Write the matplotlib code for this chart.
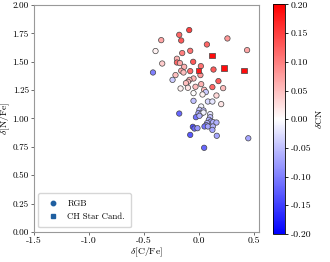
import matplotlib
matplotlib.use("Agg")
import matplotlib.pyplot as plt
from matplotlib.lines import Line2D
import numpy as np

plt.rcParams["font.family"] = "serif"
plt.rcParams["font.serif"] = ["cmr10"]
plt.rcParams["mathtext.fontset"] = "cm"
plt.rcParams["axes.formatter.use_mathtext"] = True
plt.rcParams["font.size"] = 7

# RGB stars: delta[C/Fe], delta[N/Fe], delta CN
rgb_cfe = [-0.086, -0.177, -0.159, -0.341, 0.262, 0.075, -0.393, -0.077, -0.150, 0.441,
           -0.198, -0.198, -0.332, -0.171, -0.050, -0.132, 0.020, -0.416, -0.159, -0.138,
           -0.077, 0.135, 0.016, -0.211, -0.238, -0.047, -0.084, -0.098, -0.116, 0.180,
           0.023, -0.165, -0.098, -0.029, 0.125, 0.050, 0.223, 0.065, -0.047, 0.035,
           0.162, -0.047, 0.084, 0.125, 0.205, 0.023, 0.007, 0.044, -0.002, 0.023,
           0.044, -0.177, 0.105, 0.105, -0.025, 0.007, 0.093, 0.111, 0.132, 0.077,
           0.068, 0.053, 0.084, 0.162, -0.053, -0.038, -0.011, 0.129, 0.125, -0.077,
           0.165, 0.452, 0.050]
rgb_nfe = [1.779, 1.737, 1.687, 1.690, 1.705, 1.652, 1.594, 1.596, 1.576, 1.602,
           1.526, 1.493, 1.484, 1.488, 1.499, 1.455, 1.461, 1.405, 1.420, 1.405,
           1.417, 1.431, 1.382, 1.382, 1.340, 1.352, 1.340, 1.323, 1.311, 1.329,
           1.302, 1.264, 1.270, 1.279, 1.276, 1.252, 1.267, 1.232, 1.223, 1.211,
           1.202, 1.155, 1.149, 1.149, 1.126, 1.105, 1.076, 1.070, 1.047, 1.041,
           1.052, 1.043, 1.038, 1.011, 1.011, 1.023, 0.988, 0.973, 0.967, 0.959,
           0.941, 0.929, 0.929, 0.964, 0.926, 0.911, 0.914, 0.929, 0.899, 0.855,
           0.847, 0.825, 0.741]
rgb_dcn = [0.15, 0.12, 0.13, 0.07, 0.08, 0.12, 0.01, 0.11, 0.10, 0.07,
           0.06, 0.12, 0.04, 0.07, 0.13, 0.06, 0.11, -0.10, 0.07, 0.05,
           0.12, 0.13, 0.08, 0.05, -0.04, 0.06, 0.06, 0.05, 0.05, 0.13,
           0.06, 0.01, 0.02, 0.05, 0.12, 0.05, 0.05, -0.04, 0.00, 0.01,
           0.03, -0.05, -0.03, -0.02, 0.02, -0.01, -0.05, -0.05, -0.07, -0.04,
           -0.01, -0.12, -0.02, -0.05, -0.11, -0.06, -0.06, -0.08, -0.06, -0.06,
           -0.09, -0.11, -0.07, -0.06, -0.14, -0.12, -0.08, -0.06, -0.07, -0.13,
           -0.07, -0.07, -0.12]

# CH star candidates
ch_cfe = [0.123, -0.002, 0.232, 0.414]
ch_nfe = [1.555, 1.420, 1.444, 1.420]
ch_dcn = [0.19, 0.18, 0.19, 0.19]

x_ticks = [-1.5, -1.0, -0.5, 0.0, 0.5]
y_ticks = [0.0, 0.25, 0.5, 0.75, 1.0, 1.25, 1.5, 1.75, 2.0]
cb_ticks = [-0.2, -0.15, -0.1, -0.05, 0.0, 0.05, 0.1, 0.15, 0.2]

fig = plt.figure(figsize=(3.3, 2.62), dpi=100)
ax = fig.add_axes([0.103, 0.115, 0.682, 0.866])
cax = fig.add_axes([0.828, 0.107, 0.036, 0.876])

norm = matplotlib.colors.Normalize(vmin=-0.2, vmax=0.2)
sc = ax.scatter(rgb_cfe, rgb_nfe, c=rgb_dcn, cmap="bwr", norm=norm, s=15,
                marker="o", edgecolors="#444444", linewidths=0.5, zorder=3)
ax.scatter(ch_cfe, ch_nfe, c=ch_dcn, cmap="bwr", norm=norm, s=15,
           marker="s", edgecolors="#444444", linewidths=0.5, zorder=3)

ax.set_xlim(-1.5, 0.55)
ax.set_ylim(0, 2.0)
ax.set_xticks(x_ticks)
ax.set_yticks(y_ticks)
ax.yaxis.set_major_formatter(matplotlib.ticker.FormatStrFormatter("%.2f"))
ax.xaxis.set_major_formatter(matplotlib.ticker.FormatStrFormatter("%.1f"))
ax.set_xlabel(r"$\delta[\mathrm{C/Fe}]$", labelpad=0)
ax.set_ylabel(r"$\delta[\mathrm{N/Fe}]$")
ax.yaxis.set_label_coords(-0.098, 0.5)
for sp in ax.spines.values():
    sp.set_color("#999999")
ax.tick_params(length=2.5, width=0.6, pad=1.2, color="#555555")
ax.tick_params(axis="y", labelsize=6.6)

handles = [
    Line2D([], [], marker="o", ls="none", color="#1f5fa0", markersize=3.2),
    Line2D([], [], marker="s", ls="none", color="#1f5fa0", markersize=3.2),
]
ax.legend(handles, ["RGB", "CH Star Cand."], loc="lower left", fontsize=6.3,
          handletextpad=0.6, borderpad=0.7, labelspacing=0.6, framealpha=0.8)

cb = fig.colorbar(sc, cax=cax)
cb.set_ticks(cb_ticks)
cb.ax.yaxis.set_major_formatter(
    matplotlib.ticker.FuncFormatter(lambda v, p: f"{round(v, 2) + 0.0:.2f}"))
cb.set_label(r"$\delta\mathrm{CN}$", labelpad=2)
cb.ax.tick_params(length=2.5, width=0.6, pad=1.5)
cb.outline.set_linewidth(0.6)

fig.savefig("out.png", dpi=100)
